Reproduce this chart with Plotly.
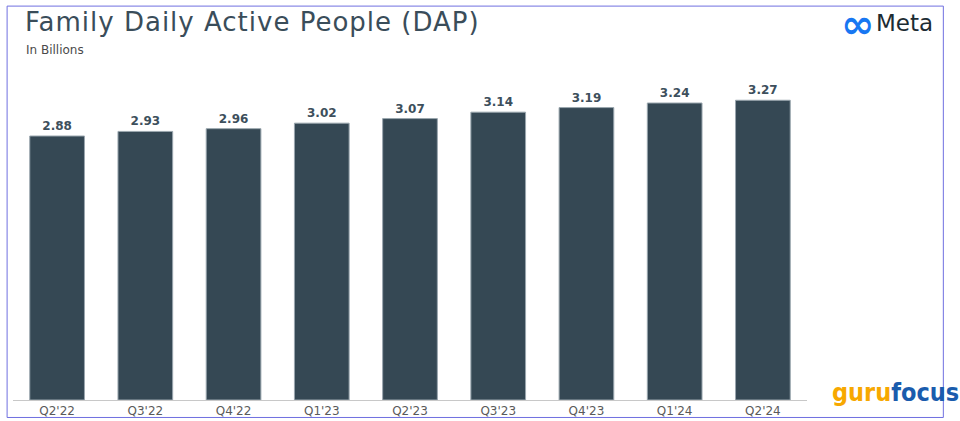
import plotly.graph_objects as go

quarters = ["Q2'22", "Q3'22", "Q4'22", "Q1'23", "Q2'23", "Q3'23", "Q4'23", "Q1'24", "Q2'24"]
dap_billions = [2.88, 2.93, 2.96, 3.02, 3.07, 3.14, 3.19, 3.24, 3.27]
value_labels = [f"{v:.2f}" for v in dap_billions]

W, H = 960, 421
L, R, T, B = 13.4, 152.8, 69.5, 21.0
PW, PH = W - L - R, H - T - B


def px(x):
    return (x - L) / PW


def py(y):
    return (H - B - y) / PH


BAR = "#354854"
TEXT = "#3d4f5c"

fig = go.Figure()
fig.add_trace(go.Bar(
    x=quarters,
    y=dap_billions,
    text=value_labels,
    textposition="outside",
    textfont=dict(family="DejaVu Sans", size=12, color=TEXT, weight="bold"),
    marker=dict(color=BAR, line=dict(color="#9aa6ae", width=1)),
    width=0.62,
    cliponaxis=False,
    hoverinfo="skip",
))

fig.update_layout(
    width=W, height=H,
    margin=dict(l=L, r=R, t=T, b=B, pad=0, autoexpand=False),
    paper_bgcolor="white", plot_bgcolor="white",
    showlegend=False,
    bargap=0.38,
    xaxis=dict(
        type="category", range=[-0.5, 8.5], automargin=False,
        showline=True, linecolor="#c8c8c8", linewidth=1,
        showgrid=False, ticks="", ticklen=0,
        tickfont=dict(family="DejaVu Sans", size=12, color="#5a5a5a"),
        fixedrange=True,
    ),
    yaxis=dict(
        range=[0, 3.6], visible=False, showgrid=False, zeroline=False,
        fixedrange=True, automargin=False,
    ),
    shapes=[
        dict(type="rect", xref="paper", yref="paper",
             x0=px(7.5), x1=px(943.5), y0=py(417.5), y1=py(5.5),
             line=dict(color="#6f6fe0", width=1), fillcolor="rgba(0,0,0,0)",
             layer="above"),
    ],
    annotations=[
        dict(text="<span style='letter-spacing:1px'>Family Daily Active People (DAP)</span>",
             xref="paper", yref="paper",
             x=px(23), y=py(21), xanchor="left", yanchor="middle", showarrow=False,
             font=dict(family="DejaVu Sans", size=26, color="#3a4d5a")),
        dict(text="In Billions", xref="paper", yref="paper",
             x=px(24), y=py(49), xanchor="left", yanchor="middle", showarrow=False,
             font=dict(family="DejaVu Sans", size=12, color="#4a4a4a")),
        dict(text="∞", xref="paper", yref="paper",
             x=px(857.5), y=py(23), xanchor="center", yanchor="middle", showarrow=False,
             font=dict(family="DejaVu Sans", size=40, color="#1877f2", weight="bold")),
        dict(text="Meta", xref="paper", yref="paper",
             x=px(874), y=py(22), xanchor="left", yanchor="middle", showarrow=False,
             font=dict(family="DejaVu Sans", size=23, color="#1c2b33")),
        dict(text="<span style='color:#f7a800'>guru</span><span style='color:#1a5cad'>focus</span>",
             xref="paper", yref="paper",
             x=px(896), y=py(392), xanchor="center", yanchor="middle", showarrow=False,
             font=dict(family="DejaVu Sans Condensed", size=25, weight="bold")),
    ],
)

fig.write_html("out.html")
